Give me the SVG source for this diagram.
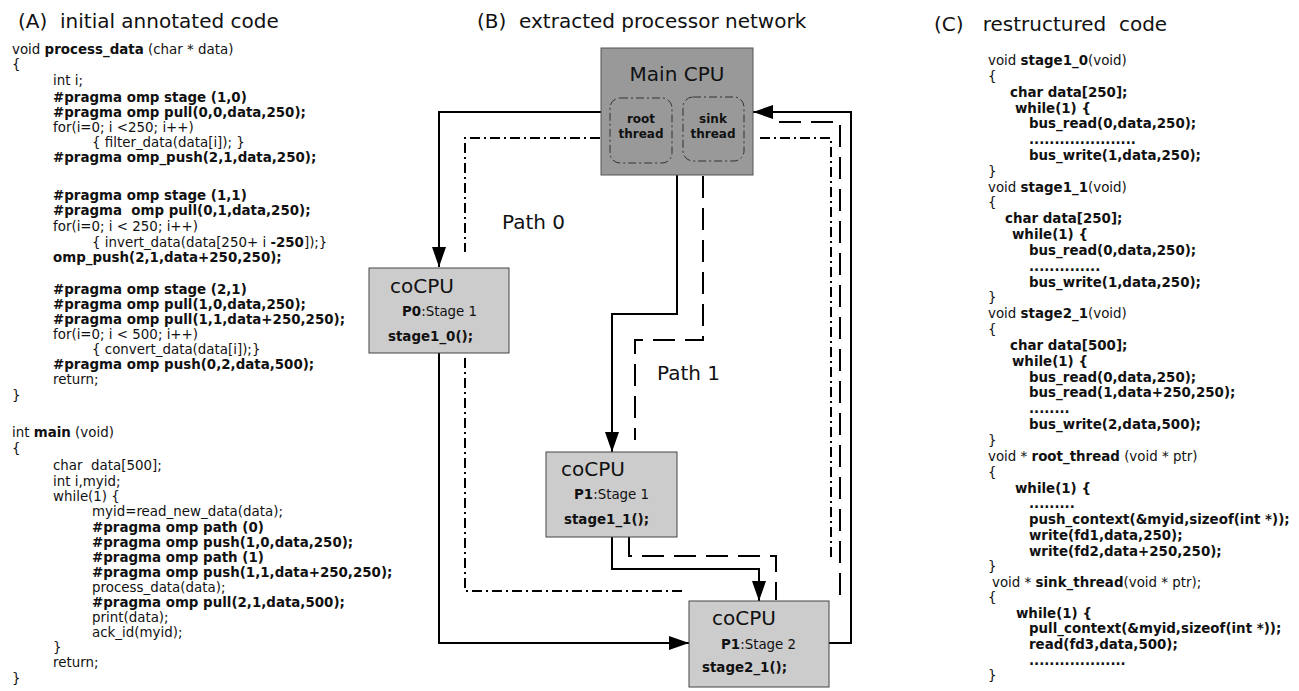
<svg xmlns="http://www.w3.org/2000/svg" width="1299" height="691" viewBox="0 0 1299 691">
<style>
text{font-family:"DejaVu Sans","Liberation Sans",sans-serif;fill:#111;white-space:pre}
.title{font-size:20px}
.code{font-size:13.4px}
.b{font-weight:bold}
.big{font-size:20px}
.small{font-size:12px;font-weight:bold}
.solid{fill:none;stroke:#000;stroke-width:2}
.dash{fill:none;stroke:#000;stroke-width:2;stroke-dasharray:22,10}
.dashdot{fill:none;stroke:#000;stroke-width:2;stroke-dasharray:10,4,2,4}
.inner{fill:none;stroke:#333;stroke-width:1;stroke-dasharray:8,3,2,3}
.co{fill:#cccccc;stroke:#444;stroke-width:1}
</style>
<defs>
<marker id="arr" markerUnits="userSpaceOnUse" markerWidth="20" markerHeight="14" refX="20" refY="7" orient="auto">
<path d="M0,0 L20,7 L0,14 z" fill="#000"/>
</marker>
</defs>
<rect width="1299" height="691" fill="#fff"/>

<g id="codeA">
<text class="title" x="18" y="28">(A)  initial annotated code</text>
<g class="code">
<text x="12" y="54">void <tspan class="b">process_data</tspan> (char * data)</text>
<text x="12" y="69">{</text>
<text x="53" y="85">int i;</text>
<text x="53" y="101.5" class="b">#pragma omp stage (1,0)</text>
<text x="53" y="116.5" class="b">#pragma omp pull(0,0,data,250);</text>
<text x="53" y="131.5">for(i=0; i &lt;250; i++)</text>
<text x="92" y="146.5">{ filter_data(data[i]); }</text>
<text x="53" y="161.5" class="b">#pragma omp_push(2,1,data,250);</text>
<text x="53" y="200" class="b">#pragma omp stage (1,1)</text>
<text x="53" y="215" class="b">#pragma  omp pull(0,1,data,250);</text>
<text x="53" y="231">for(i=0; i &lt; 250; i++)</text>
<text x="92" y="246.5">{ invert_data(data[250+ i <tspan class="b">-250</tspan>]);}</text>
<text x="53" y="261.5" class="b">omp_push(2,1,data+250,250);</text>
<text x="53" y="294" class="b">#pragma omp stage (2,1)</text>
<text x="53" y="309.3" class="b">#pragma omp pull(1,0,data,250);</text>
<text x="53" y="324.3" class="b">#pragma omp pull(1,1,data+250,250);</text>
<text x="53" y="339.3">for(i=0; i &lt; 500; i++)</text>
<text x="92" y="354.3">{ convert_data(data[i]);}</text>
<text x="53" y="369.3" class="b">#pragma omp push(0,2,data,500);</text>
<text x="53" y="384.3">return;</text>
<text x="12" y="400">}</text>
<text x="12" y="437">int <tspan class="b">main</tspan> (void)</text>
<text x="12" y="453">{</text>
<text x="53" y="470">char  data[500];</text>
<text x="53" y="485.5">int i,myid;</text>
<text x="53" y="501">while(1) {</text>
<text x="92" y="516">myid=read_new_data(data);</text>
<text x="92" y="531.5" class="b">#pragma omp path (0)</text>
<text x="92" y="546.5" class="b">#pragma omp push(1,0,data,250);</text>
<text x="92" y="561.5" class="b">#pragma omp path (1)</text>
<text x="92" y="576.5" class="b">#pragma omp push(1,1,data+250,250);</text>
<text x="92" y="591.5">process_data(data);</text>
<text x="92" y="606.5" class="b">#pragma omp pull(2,1,data,500);</text>
<text x="92" y="621.5">print(data);</text>
<text x="92" y="636.5">ack_id(myid);</text>
<text x="53" y="651.5">}</text>
<text x="53" y="666.5">return;</text>
<text x="12" y="683">}</text>
</g>
</g>

<text class="title" x="477" y="27.5">(B)  extracted processor network</text>

<g id="connectors">
<path class="solid" d="M601,112 H439 V267" marker-end="url(#arr)"/>
<path class="solid" d="M439,353 V643 H689" marker-end="url(#arr)"/>
<path class="solid" d="M677,175 V314 H612 V452" marker-end="url(#arr)"/>
<path class="solid" d="M612,537 V569 H759 V601" marker-end="url(#arr)"/>
<path class="solid" d="M829,643 H851 V112 H753" marker-end="url(#arr)"/>
<path class="dashdot" d="M600,138 H465 V252"/>
<path class="dashdot" d="M465,358 V591 H683"/>
<path class="dashdot" d="M760,138 H831 V561"/>
<path class="dash" d="M703,176 V340 H635 V440"/>
<path class="dash" d="M629,537 V556 H776 V600"/>
<path class="dash" d="M840,595 V122 H773"/>
<text class="big" x="502" y="229">Path 0</text>
<text class="big" x="657" y="380">Path 1</text>
</g>

<g id="mainCPU">
<rect x="601" y="48" width="152" height="127" fill="#999999" stroke="#555" stroke-width="1"/>
<text class="big" x="677" y="81" text-anchor="middle">Main CPU</text>
<rect class="inner" x="610" y="98" width="62" height="65" rx="10"/>
<rect class="inner" x="683" y="97" width="61" height="64" rx="10"/>
<text class="small" x="641" y="123" text-anchor="middle">root</text>
<text class="small" x="641" y="138" text-anchor="middle">thread</text>
<text class="small" x="713" y="123" text-anchor="middle">sink</text>
<text class="small" x="713" y="138" text-anchor="middle">thread</text>
</g>

<g id="coCPU_P0">
<rect class="co" x="369" y="268" width="140" height="85"/>
<text class="big" x="390" y="293">coCPU</text>
<text class="code" x="402" y="315.5"><tspan class="b">P0</tspan>:Stage 1</text>
<text class="code b" x="388" y="340.5">stage1_0();</text>
</g>

<g id="coCPU_P1S1">
<rect class="co" x="546" y="452" width="131" height="85"/>
<text class="big" x="561" y="476">coCPU</text>
<text class="code" x="574" y="499"><tspan class="b">P1</tspan>:Stage 1</text>
<text class="code b" x="564" y="523.5">stage1_1();</text>
</g>

<g id="coCPU_P1S2">
<rect class="co" x="689" y="601" width="140" height="86"/>
<text class="big" x="712" y="625">coCPU</text>
<text class="code" x="721" y="648.5"><tspan class="b">P1</tspan>:Stage 2</text>
<text class="code b" x="702" y="672">stage2_1();</text>
</g>

<g id="codeC">
<text class="title" x="934" y="31">(C)   restructured  code</text>
<g class="code">
<text x="988" y="65">void <tspan class="b">stage1_0</tspan>(void)</text>
<text x="988" y="80.5">{</text>
<text x="1010" y="96.5" class="b">char data[250];</text>
<text x="1015" y="112.5" class="b">while(1) {</text>
<text x="1029" y="128.3" class="b">bus_read(0,data,250);</text>
<text x="1029" y="144" class="b">.....................</text>
<text x="1029" y="160" class="b">bus_write(1,data,250);</text>
<text x="988" y="175.5">}</text>
<text x="988" y="191.5">void <tspan class="b">stage1_1</tspan>(void)</text>
<text x="988" y="207">{</text>
<text x="1005" y="223" class="b">char data[250];</text>
<text x="1012" y="239" class="b">while(1) {</text>
<text x="1029" y="255" class="b">bus_read(0,data,250);</text>
<text x="1029" y="270.5" class="b">..............</text>
<text x="1029" y="286.5" class="b">bus_write(1,data,250);</text>
<text x="988" y="302">}</text>
<text x="988" y="318">void <tspan class="b">stage2_1</tspan>(void)</text>
<text x="988" y="333.5">{</text>
<text x="1010" y="349.5" class="b">char data[500];</text>
<text x="1012" y="365.5" class="b">while(1) {</text>
<text x="1029" y="381.5" class="b">bus_read(0,data,250);</text>
<text x="1029" y="397.3" class="b">bus_read(1,data+250,250);</text>
<text x="1029" y="413" class="b">........</text>
<text x="1029" y="429" class="b">bus_write(2,data,500);</text>
<text x="988" y="445">}</text>
<text x="988" y="460.7">void * <tspan class="b">root_thread</tspan> (void * ptr)</text>
<text x="988" y="476.5">{</text>
<text x="1015" y="492.5" class="b">while(1) {</text>
<text x="1029" y="508" class="b">.........</text>
<text x="1029" y="524" class="b">push_context(&amp;myid,sizeof(int *));</text>
<text x="1029" y="540" class="b">write(fd1,data,250);</text>
<text x="1029" y="555.5" class="b">write(fd2,data+250,250);</text>
<text x="988" y="570.5">}</text>
<text x="992" y="586.5">void * <tspan class="b">sink_thread</tspan>(void * ptr);</text>
<text x="988" y="601.5">{</text>
<text x="1016" y="617.5" class="b">while(1) {</text>
<text x="1029" y="633.3" class="b">pull_context(&amp;myid,sizeof(int *));</text>
<text x="1029" y="649" class="b">read(fd3,data,500);</text>
<text x="1029" y="665" class="b">...................</text>
<text x="988" y="680">}</text>
</g>
</g>
</svg>
